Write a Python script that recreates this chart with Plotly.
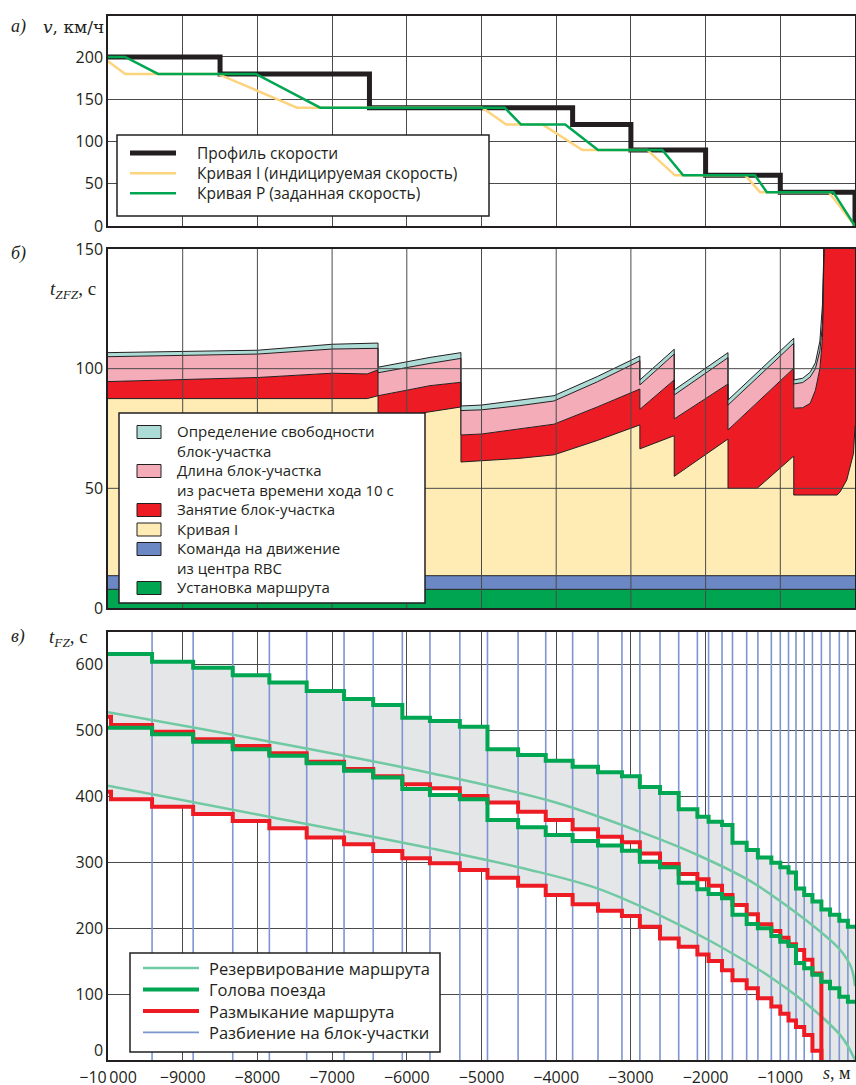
import plotly.graph_objects as go

# ---------------- Panel a: speed profile (km/h) ----------------
prof_s = [-10000, -8500, -6500, -3780, -3000, -2000, -1000, 0]
prof_v = [200, 180, 140, 120, 90, 60, 40, 0]
curveI_s = [-10000, -9770, -8530, -7470, -4990, -4670, -4180, -3650, -2780, -2410, -1470, -1270, -350, 0]
curveI_v = [195, 180, 180, 140, 140, 120, 120, 90, 90, 60, 60, 40, 40, 0]
curveP_s = [-10000, -9770, -9330, -8020, -7160, -4690, -4470, -3880, -3440, -2580, -2300, -1340, -1180, -290, 0]
curveP_v = [200, 200, 180, 180, 140, 140, 120, 120, 90, 90, 60, 60, 40, 40, 0]
legend_a_names = ["Профиль скорости", "Кривая I (индицируемая скорость)", "Кривая P (заданная скорость)"]

# ---------------- Panel b: t_ZFZ components (s), cumulative tops ----------------
zfz_s = [-10000, -9000, -8000, -7000, -6530, -6385, -6385, -6000, -5690, -5275, -5275, -5000,
         -4500, -4030, -3450, -2880, -2880, -2420, -2420, -1700, -1700, -1310, -820, -820,
         -700, -600, -530, -470, -435, -415, -400, -240, -200, -110, -20, 0]
route_set_top = [7.8, 7.8]
rbc_cmd_top = [13.5, 13.5]
band_s = [-10000, 0]
curveI_top = [87.5, 87.5, 87.5, 87.5, 87.5, 88.7, 79, 80.5, 82, 84, 61, 61.5,
              62.5, 64, 70, 76.5, 66.5, 72, 55, 70.6, 50, 50, 63.5, 47.2,
              47.2, 47.2, 47.2, 47.2, 47.2, 47.2, 47.2, 47.2, 48.5, 53.5, 64.6, 76]
occupy_top = [94.6, 95.3, 96.3, 98.1, 97.8, 99.5, 88.7, 91, 92.9, 94.3, 72.3, 72.7,
              74.8, 76.8, 84, 91.5, 83, 95.3, 79, 93.6, 74.4, 85.8, 100.2, 83.5,
              83.7, 85.5, 91, 100, 113, 150, 200, 200, 200, 200, 200, 200]
length_top = [105, 105.5, 106.1, 108.2, 108.4, 108.5, 98.3, 100.5, 102.2, 104.3, 82.5, 82.8,
              84.5, 86.5, 94.5, 103.3, 93.2, 106.1, 89, 104.6, 84.8, 96.2, 110.6, 93.6,
              94.2, 96.5, 100, 107.5, 118.5, 151, 201, 201, 201, 201, 201, 201]
clear_top = [106.7, 107.2, 107.7, 110.2, 110.5, 110.7, 100.6, 102.8, 104.7, 106.7, 84.4, 84.8,
             86.8, 88.7, 96.7, 105.3, 95.3, 108.1, 91.1, 106.7, 86.9, 98.3, 112.7, 95.3,
             96, 98.5, 102.5, 111.5, 127, 152, 202, 202, 202, 202, 202, 202]
legend_b_names = [["Определение свободности", "блок-участка"],
                  ["Длина блок-участка", "из расчета времени хода 10 с"],
                  ["Занятие блок-участка"],
                  ["Кривая I"],
                  ["Команда на движение", "из центра RBC"],
                  ["Установка маршрута"]]

# ---------------- Panel c: t_FZ (s) ----------------
block_edges = [-9410, -8860, -8330, -7840, -7340, -6840, -6450, -6060, -5690, -5290, -4920,
               -4510, -4140, -3780, -3440, -3120, -2880, -2610, -2360, -2110, -1960, -1780,
               -1640, -1450, -1300, -1120, -1000, -890, -790, -680, -570, -450, -335, -210, -95]
head_upper = [615, 603.5, 594.5, 583, 572, 559, 547, 538, 518.6, 513.6, 505, 471, 462, 453.5,
              444.5, 436, 430, 413.5, 404.5, 380, 368.7, 361, 356, 329, 318, 307, 299, 292,
              284, 260, 250, 240, 228, 220, 211, 202]
head_lower = [503.5, 493.4, 482.3, 470.7, 461, 449.5, 438.4, 428, 410.6, 401.5, 395, 363.6,
              352.5, 341, 332, 325, 317, 300.5, 292, 268.7, 258.6, 251.5, 245, 220, 206,
              199.5, 188, 179, 172.7, 147, 139, 129, 118.7, 108.6, 96, 88.4]
release_first_edge = -9960
release_upper = [520, 507.6, 497.5, 486, 475.8, 464.6, 452, 441, 430, 418, 411.6, 400, 390,
                 376, 363.6, 349.5, 338.4, 330, 313, 297, 282, 274, 264, 250, 235, 221,
                 205.5, 195.5, 185.4, 175.3, 166.7, 152, 131]
release_lower = [406.6, 395, 383.8, 372.7, 362, 351, 337, 326.8, 316.7, 305.5, 298, 288, 276,
                 264, 250, 236, 226, 218, 202, 184, 171.7, 160, 150, 136, 121, 108.6, 93.4,
                 81, 70, 60, 50, 38, 14]
reserve_up_s = [-10000, -8000, -5690, -4030, -2880, -2115, -1400, -870, -470, -200, -50, 0]
reserve_up_t = [527, 486, 435, 391, 346, 311, 271, 230, 195, 167, 140, 112]
reserve_lo_s = [-10000, -8000, -5690, -4350, -3450, -2570, -1900, -1150, -780, -430, -200, -100, 0]
reserve_lo_t = [415.6, 372, 321, 288, 260, 217, 178, 127, 97, 64, 38, 22, 0]
legend_c_names = ["Резервирование маршрута", "Голова поезда", "Размыкание маршрута",
                  "Разбиение на блок-участки"]

x_ticks = [-10000, -9000, -8000, -7000, -6000, -5000, -4000, -3000, -2000, -1000]
x_ticktext = ["\u221210\u2009000", "\u22129000", "\u22128000", "\u22127000", "\u22126000",
              "\u22125000", "\u22124000", "\u22123000", "\u22122000", "\u22121000"]
tfz_ticks = [100, 200, 300, 400, 500, 600]

SANS = "Open Sans"
SERIF = "Liberation Serif"
INK = "#231f20"
GRID = "#4a4a4a"
C_PROF, C_I, C_P = INK, "#fdd47e", "#00a651"
C_GREEN, C_BLUE, C_YEL, C_RED, C_PINK, C_CYAN = "#00a551", "#6b88c5", "#feecb4", "#ed1c24", "#f5acb9", "#addcd7"
C_RES, C_HEAD, C_REL, C_BLK, GREY = "#70c9a3", "#00a651", "#ed1c24", "#7d95d0", "#e5e6e8"

fig = go.Figure()

# ---- panel a ----
fig.add_trace(go.Scatter(x=prof_s, y=prof_v, mode="lines", line=dict(color=C_PROF, width=5, shape="hv"),
                         name=legend_a_names[0], showlegend=False, xaxis="x", yaxis="y"))
fig.add_trace(go.Scatter(x=curveI_s, y=curveI_v, mode="lines", line=dict(color=C_I, width=2.5),
                         name=legend_a_names[1], showlegend=False, xaxis="x", yaxis="y"))
fig.add_trace(go.Scatter(x=curveP_s, y=curveP_v, mode="lines", line=dict(color=C_P, width=2.5),
                         name=legend_a_names[2], showlegend=False, xaxis="x", yaxis="y"))

# ---- panel b (stacked areas) ----
outline = dict(color=INK, width=1)
b_layers = [(band_s, route_set_top, C_GREEN, "tozeroy", "Установка маршрута"),
            (band_s, rbc_cmd_top, C_BLUE, "tonexty", "Команда на движение из центра RBC"),
            (zfz_s, curveI_top, C_YEL, "tonexty", "Кривая I"),
            (zfz_s, occupy_top, C_RED, "tonexty", "Занятие блок-участка"),
            (zfz_s, length_top, C_PINK, "tonexty", "Длина блок-участка"),
            (zfz_s, clear_top, C_CYAN, "tonexty", "Определение свободности блок-участка")]
for xs, ys, col, fl, nm in b_layers:
    fig.add_trace(go.Scatter(x=xs, y=ys, mode="lines", fill=fl, fillcolor=col, line=outline,
                             name=nm, showlegend=False, xaxis="x2", yaxis="y2"))

# ---- panel c ----
head_x = [-10000] + block_edges + [0]
rel_x = [-10000, release_first_edge] + block_edges[:32]
rel_up_y = release_upper + [0]
rel_lo_y = release_lower + [0]
for rel_y, head_y in ((rel_up_y, head_upper), (rel_lo_y, head_lower)):
    fig.add_trace(go.Scatter(x=rel_x + [0], y=rel_y + [0], mode="lines", line=dict(width=0, shape="hv"),
                             showlegend=False, hoverinfo="skip", xaxis="x3", yaxis="y3"))
    fig.add_trace(go.Scatter(x=head_x, y=head_y + [head_y[-1]], mode="lines", fill="tonexty",
                             fillcolor=GREY, line=dict(width=0, shape="hv"), showlegend=False,
                             hoverinfo="skip", xaxis="x3", yaxis="y3"))

bx, by = [], []
for e in block_edges:
    bx += [e, e, None]
    by += [0, 650, None]
fig.add_trace(go.Scatter(x=bx, y=by, mode="lines", line=dict(color=C_BLK, width=1.6),
                         name=legend_c_names[3], showlegend=False, xaxis="x3", yaxis="y3"))
fig.add_trace(go.Scatter(x=reserve_up_s, y=reserve_up_t, mode="lines",
                         line=dict(color=C_RES, width=2.5, shape="spline"),
                         name=legend_c_names[0], showlegend=False, xaxis="x3", yaxis="y3"))
fig.add_trace(go.Scatter(x=reserve_lo_s, y=reserve_lo_t, mode="lines",
                         line=dict(color=C_RES, width=2.5, shape="spline"),
                         showlegend=False, xaxis="x3", yaxis="y3"))
fig.add_trace(go.Scatter(x=rel_x, y=rel_up_y, mode="lines", line=dict(color=C_REL, width=4, shape="hv"),
                         name=legend_c_names[2], showlegend=False, xaxis="x3", yaxis="y3"))
fig.add_trace(go.Scatter(x=rel_x, y=rel_lo_y, mode="lines", line=dict(color=C_REL, width=4, shape="hv"),
                         showlegend=False, xaxis="x3", yaxis="y3"))
fig.add_trace(go.Scatter(x=head_x, y=head_upper + [head_upper[-1]], mode="lines",
                         line=dict(color=C_HEAD, width=4, shape="hv"),
                         name=legend_c_names[1], showlegend=False, xaxis="x3", yaxis="y3"))
fig.add_trace(go.Scatter(x=head_x, y=head_lower + [head_lower[-1]], mode="lines",
                         line=dict(color=C_HEAD, width=4, shape="hv"),
                         showlegend=False, xaxis="x3", yaxis="y3"))

# ---- axes ----
PLOT_BOTTOM, PLOT_H, PLOT_L, PLOT_W = 1060, 1044, 108, 747
def py(p):
    return (PLOT_BOTTOM - p) / PLOT_H
def px(p):
    return (p - PLOT_L) / PLOT_W

axis_common = dict(showline=True, mirror=True, linecolor=INK, linewidth=1.5, ticks="",
                   zeroline=False, automargin=False, tickfont=dict(family=SANS, size=16, color=INK))
xa = dict(range=[-10000, 0], dtick=1000, tick0=0, gridcolor=GRID, gridwidth=1, **axis_common)

fig.update_layout(
    width=856, height=1085, margin=dict(l=108, r=1, t=16, b=25),
    paper_bgcolor="white", plot_bgcolor="white", showlegend=False,
    xaxis=dict(xa, showgrid=True, showticklabels=False, anchor="y"),
    xaxis2=dict(xa, showgrid=False, showticklabels=False, anchor="y2", matches="x"),
    xaxis3=dict(xa, showgrid=True, anchor="y3", matches="x", tickmode="array",
                tickvals=x_ticks, ticktext=x_ticktext, ticklabelstandoff=2),
    yaxis=dict(axis_common, domain=[py(226), 1], range=[0, 248.5], tickvals=[0, 50, 100, 150, 200],
               showgrid=True, gridcolor=GRID, anchor="x"),
    yaxis2=dict(axis_common, domain=[py(608), py(249)], range=[0, 150], tickvals=[0, 50, 100, 150],
                showgrid=False, anchor="x2"),
    yaxis3=dict(axis_common, domain=[0, py(632)], range=[0, 648.5],
                tickvals=tfz_ticks, showgrid=True, gridcolor=GRID, anchor="x3"),
)

shapes = []
ann = []
# grid of panel b drawn above the filled areas
for gx in x_ticks[1:]:
    shapes.append(dict(type="line", xref="x2", yref="y2", x0=gx, x1=gx, y0=0, y1=150,
                       line=dict(color=GRID, width=1), layer="above"))
for gy in [50, 100]:
    shapes.append(dict(type="line", xref="x2", yref="y2", x0=-10000, x1=0, y0=gy, y1=gy,
                       line=dict(color=GRID, width=1), layer="above"))

def box(x0, y0, x1, y1, fill="white", lc=INK, lw=1.5):
    shapes.append(dict(type="rect", xref="paper", yref="paper", x0=px(x0), x1=px(x1), y0=py(y1), y1=py(y0),
                       fillcolor=fill, line=dict(color=lc, width=lw), layer="above"))

def hline(x0, x1, y, color, width):
    shapes.append(dict(type="line", xref="paper", yref="paper", x0=px(x0), x1=px(x1), y0=py(y), y1=py(y),
                       line=dict(color=color, width=width), layer="above"))

def text(t, x, y, size=16.5, family=SANS, anchor="left", yanchor="middle"):
    ann.append(dict(text=t, xref="paper", yref="paper", x=px(x), y=py(y), xanchor=anchor,
                    yanchor=yanchor, showarrow=False, borderpad=0, align="left",
                    font=dict(family=family, size=size, color=INK)))

def line_legend(x_sym0, x_sym1, x_text, y_first, font, styles, names):
    step = 1.3 * font
    for k, (col, w) in enumerate(styles):
        hline(x_sym0, x_sym1, y_first + k * step, col, w)
    text("<br>".join(names), x_text, y_first + (len(names) - 1) * step / 2, size=font)

# legend a
box(117, 135, 489, 216)
line_legend(130, 176, 196, 153, 15.5, [(C_PROF, 5), (C_I, 2.5), (C_P, 2.5)], legend_a_names)

# legend b : one multi-line text block, squares aligned to first line of each entry
box(119, 413, 425, 603)
LB_FONT = 15
LB_STEP = 1.3 * LB_FONT
LB_FIRST = 431
all_lines = []
for col, lines in zip([C_CYAN, C_PINK, C_RED, C_YEL, C_BLUE, C_GREEN], legend_b_names):
    y_first = LB_FIRST + len(all_lines) * LB_STEP
    box(137, y_first - 5.5, 161, y_first + 7.5, fill=col, lc=INK, lw=1)
    all_lines += lines
text("<br>".join(all_lines), 176, LB_FIRST + (len(all_lines) - 1) * LB_STEP / 2, size=LB_FONT)

# legend c
box(130, 953, 440, 1052)
line_legend(143, 199, 208, 968, 16.5, [(C_RES, 2.5), (C_HEAD, 4), (C_REL, 4), (C_BLK, 1.6)],
            legend_c_names)

# zero label of panel c placed just above the x tick labels
text("0", 104, 1062, size=16, anchor="right", yanchor="bottom")

# panel labels / axis titles
text("<i>а)</i>", 10, 27, size=18, family=SERIF)
text("<i>v</i>, км/ч", 42, 27, size=17, family="DejaVu Serif")
text("<i>б)</i>", 10, 253, size=18, family=SERIF)
text("<i>t</i><sub><i>ZFZ</i></sub>, с", 49, 290, size=19, family=SERIF)
text("<i>в)</i>", 10, 636, size=18, family=SERIF)
text("<i>t</i><sub><i>FZ</i></sub>, с", 48, 638, size=19, family=SERIF)
text("<i>s</i>, м", 822, 1073, size=18, family=SERIF)

fig.update_layout(shapes=shapes, annotations=ann)
fig.write_html("out.html")
